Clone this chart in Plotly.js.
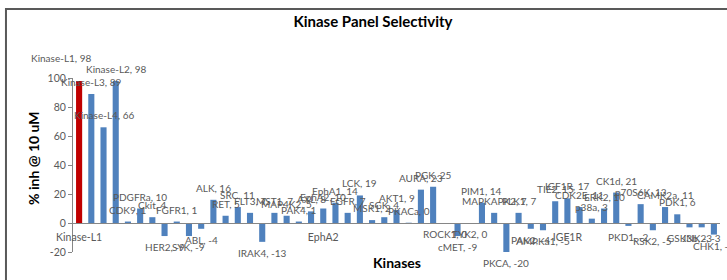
<!DOCTYPE html>
<html>
<head>
<meta charset="utf-8">
<script src="https://cdn.plot.ly/plotly-3.0.1.min.js"></script>
<style>html,body{margin:0;padding:0;background:#fff;}#chart{width:727px;height:280px;}</style>
</head>
<body>
<div id="chart"></div>
<script>
// Categories (kinases) in plotted order
const kinases = ["Kinase-L1","Kinase-L3","Kinase-L4","Kinase-L2","CDK9","PDGFRa","Ckit","HER2","FGFR1","SYK",
  "ABL","ALK","RET","SRC","FLT3","IRAK4","MST1","MAP4K2","PAK4","AXL",
  "EphA2","EphA1","EGFR","LCK","MSK1","SGK","AKT1","PKACa","AURA","PGK",
  "ROCK1","cMET","TYK2","PIM1","MAPKAPK2","PKCA","PLK1","PAK2","AMPKa1","TIE2",
  "IGF1R","CDK2E","p38a","ERK2","CK1d","PKD1","p70S6K","RSK2","CAMK2a","PDK1",
  "GSK3b","JNK2","CHK1"];
// % inhibition @ 10 uM
const inhibition = [98,89,66,98,1,10,4,-9,1,-9,
  -4,16,5,11,7,-13,7,5,1,8,
  10,14,7,19,2,4,9,0.2,23,25,
  -0.3,-9,-0.3,14,7,-20,7,-4,-5,15,
  17,11,3,10,21,-2,13,-5,11,6,
  -3,-3,-8];
// Category tick labels shown on the axis
const tickLabels = ["Kinase-L1","EphA2","IGF1R"];
// Value axis ticks
const yTickVals = [-20, 0, 20, 40, 60, 80, 100];
const yTickText = ["-20", "0", "20", "40", "60", "80", "100"];

const blue = "#4F81BD", red = "#C00000", grey = "#595959", axisGrey = "#868686";
const colors = kinases.map((k, i) => i === 0 ? red : blue);

const trace = {
  type: "bar",
  x: kinases,
  y: inhibition,
  marker: {color: colors},
  hoverinfo: "none"
};

const annotations = kinases.map((k, i) => {
  const v = inhibition[i];
  const pos = v >= 0;
  const a = {
    x: k, y: v, xref: "x", yref: "y",
    text: k + ", " + String(Math.round(v)),
    showarrow: false,
    yanchor: pos ? "bottom" : "top",
    yshift: pos ? 4 : -3,
    font: {family: "Lato", size: 10, color: grey}
  };
  if (i === 0) { a.xshift = -18; a.yshift = 15; }
  return a;
});

annotations.push({
  text: "% inh @ 10 uM", xref: "paper", yref: "paper",
  x: -0.062, y: 0.54, textangle: -90, showarrow: false,
  xanchor: "center", yanchor: "middle",
  font: {family: "Lato", size: 14, color: "#000", weight: "bold"}
});
annotations.push({
  text: "Kinases", xref: "paper", yref: "paper",
  x: 0.5, y: -0.058, showarrow: false,
  xanchor: "center", yanchor: "middle",
  font: {family: "Lato", size: 14, color: "#000", weight: "bold"}
});

const layout = {
  width: 727, height: 280,
  margin: {l: 73, r: 7, t: 78, b: 28},
  paper_bgcolor: "#fff", plot_bgcolor: "rgba(0,0,0,0)",
  showlegend: false,
  bargap: 0.5,
  title: {
    text: "Kinase Panel Selectivity",
    x: 0.513, xanchor: "center", y: 0.921, yanchor: "middle",
    font: {family: "Lato", size: 15, color: "#000", weight: "bold"}
  },
  xaxis: {
    type: "category",
    anchor: "free", position: 20 / 120,
    range: [-0.5, kinases.length - 0.5],
    showline: true, linecolor: axisGrey, linewidth: 1,
    showgrid: false, zeroline: false,
    tickmode: "array", tickvals: tickLabels, ticktext: tickLabels,
    ticks: "", ticklabelstandoff: 4,
    tickfont: {family: "Lato", size: 10.5, color: grey},
    fixedrange: true
  },
  yaxis: {
    range: [-20, 100],
    tickmode: "array", tickvals: yTickVals, ticktext: yTickText,
    showline: true, linecolor: axisGrey, linewidth: 1,
    ticks: "outside", ticklen: 4, tickcolor: axisGrey,
    showgrid: false, zeroline: false,
    tickfont: {family: "Lato", size: 10.5, color: grey},
    fixedrange: true
  },
  annotations: annotations,
  shapes: [{
    type: "rect", xref: "paper", yref: "paper",
    x0: -0.1036, x1: 1.2, y0: -0.3, y1: 1.3966,
    line: {color: "#595959", width: 2}, fillcolor: "rgba(0,0,0,0)", layer: "below"
  }]
};

Plotly.newPlot("chart", [trace], layout, {displayModeBar: false, staticPlot: true});
</script>
</body>
</html>
